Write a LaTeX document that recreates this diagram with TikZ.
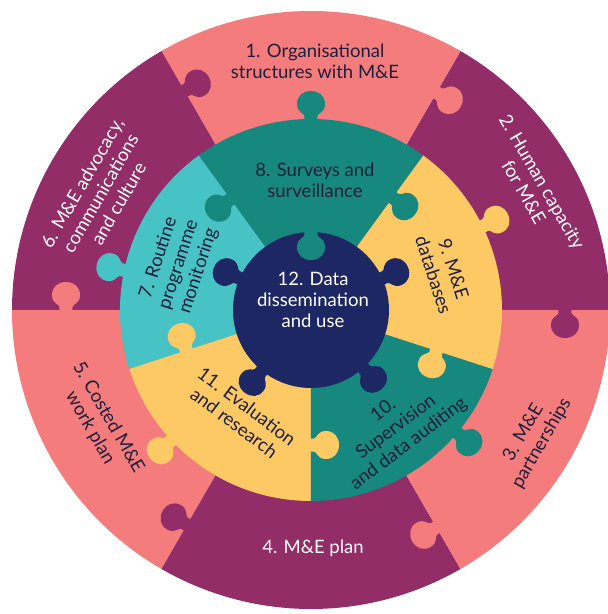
\documentclass[tikz,border=0pt]{standalone}
\usepackage{fontspec}
\setmainfont{Lato}
\definecolor{pinkc}{HTML}{F47C7C}
\definecolor{purplec}{HTML}{932D68}
\definecolor{tealc}{HTML}{16887E}
\definecolor{yellowc}{HTML}{FCC965}
\definecolor{cyanc}{HTML}{48C3C5}
\definecolor{navyc}{HTML}{1C2763}
\definecolor{darkc}{HTML}{1E1E3C}
\begin{document}
\begin{tikzpicture}[x=1pt,y=1pt,
  lbl/.style={align=center, font=\fontsize{18.5}{21}\selectfont, inner sep=0pt},
  pics/tab/.style={code={
    \fill (-6.5,-3) -- (-6.5,3) .. controls (-6.5,6) and (-14,6) .. (-14,15)
      .. controls (-14,23) and (-8,28) .. (0,28)
      .. controls (8,28) and (14,23) .. (14,15)
      .. controls (14,6) and (6.5,6) .. (6.5,3) -- (6.5,-3) -- cycle;}}]
\fill[white] (-311,-304) rectangle (297,310);
\useasboundingbox (-311,-304) rectangle (297,310);
% outer ring
\foreach \a/\c in {0/purplec,60/pinkc,120/purplec,180/pinkc,240/purplec,300/pinkc}
  \fill[\c] (0,0) -- (\a:299) arc[start angle=\a, end angle=\a+60, radius=299pt] -- cycle;
% middle ring
\foreach \a/\c in {54/tealc,126/cyanc,198/yellowc,270/tealc,342/yellowc}
  \fill[\c] (0,0) -- (\a:191) arc[start angle=\a, end angle=\a+72, radius=191pt] -- cycle;
% centre
\fill[navyc] (0,0) circle[radius=78pt];
% outer ring tabs
\pic[fill=purplec, rotate=300] at (120:253) {tab};
\pic[fill=pinkc,   rotate=240] at (60:251) {tab};
\pic[fill=purplec, rotate=180] at (0:254) {tab};
\pic[fill=pinkc,   rotate=120] at (-60:251) {tab};
\pic[fill=purplec, rotate=60]  at (-120:248) {tab};
\pic[fill=pinkc,   rotate=0]   at (180:245) {tab};
% middle ring tabs (radial)
\pic[fill=tealc,   rotate=126] at (126:137) {tab};
\pic[fill=tealc,   rotate=234] at (54:139) {tab};
\pic[fill=yellowc, rotate=162] at (342:132) {tab};
\pic[fill=yellowc, rotate=270] at (270:135) {tab};
\pic[fill=yellowc, rotate=18]  at (198:131) {tab};
% middle ring tabs (outward)
\pic[fill=cyanc,   rotate=78]   at (168:191) {tab};
\pic[fill=tealc,   rotate=0]    at (90:191) {tab};
\pic[fill=yellowc, rotate=-64]  at (26:191) {tab};
\pic[fill=tealc,   rotate=-130] at (-40:191) {tab};
\pic[fill=yellowc, rotate=133]  at (223:191) {tab};
% centre tabs
\pic[fill=navyc, rotate=-66] at (24:78) {tab};
\pic[fill=navyc, rotate=66]  at (156:78) {tab};
\pic[fill=navyc, rotate=141] at (231:78) {tab};
\pic[fill=navyc, rotate=222] at (312:78) {tab};
\pic[fill=tealc, rotate=180] at (90:78) {tab};
% labels
\node[lbl, text=darkc] (t1) at (4,249) {1. Organisational\\structures with M\&E};
\node[lbl, text=white, rotate=-60] (t2) at (29:254) {2. Human capacity\\for M\&E};
\node[lbl, text=darkc, rotate=60] (t3) at (-30:256) {3. M\&E\\partnerships};
\node[lbl, text=white] (t4) at (2,-238) {4. M\&E plan};
\node[lbl, text=darkc, rotate=-60] (t5) at (208:240) {5. Costed M\&E\\work plan};
\node[lbl, text=white, rotate=60] (t6) at (151:241) {6. M\&E advocacy,\\communications\\and culture};
\node[lbl, text=darkc, rotate=72] (t7) at (161:140) {7. Routine\\programme\\monitoring};
\node[lbl, text=darkc] (t8) at (4,130) {8. Surveys and\\surveillance};
\node[lbl, text=darkc, rotate=-72] (t9) at (16:138) {9. M\&E\\databases};
\node[lbl, text=darkc, rotate=37] (t10) at (-54:145) {10.\\Supervision\\and data auditing};
\node[lbl, text=darkc, rotate=-37] (t11) at (236:126) {11. Evaluation\\and research};
\node[lbl, text=white] (t12) at (2,10) {12. Data\\dissemination\\and use};
\end{tikzpicture}
\end{document}
